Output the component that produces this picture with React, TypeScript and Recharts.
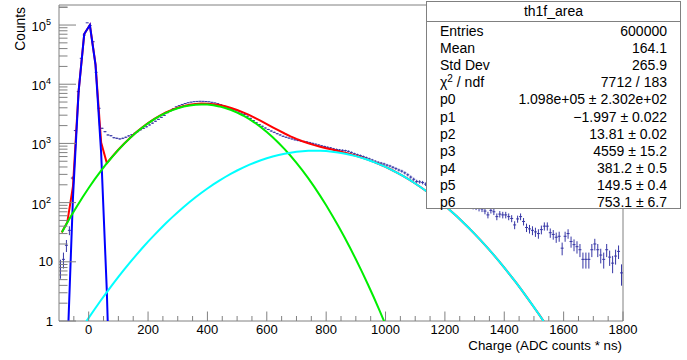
import React from 'react';
import { ComposedChart, Line, Scatter, ErrorBar, XAxis, YAxis, ReferenceArea } from 'recharts';

const FONT = '"Liberation Sans", Arial, Helvetica, sans-serif';
const AXIS_GREY = '#808080';
const DATA_BLUE = '#3636a6';

// histogram th1f_area: 190 bins of width 10 from -100 to 1800
const histLow = -100;
const binWidth = 10;
const binCounts = [
  8, 11, 19, 34, 260, 1650, 7500, 27400, 67800, 109000, // -100..0
  98000, 52200, 15900, 3920, 1800, 1580, 1390, 1350, 1250, 1220, // 0..100
  1190, 1220, 1270, 1340, 1400, 1480, 1580, 1700, 1800, 1910, // 100..200
  2050, 2200, 2370, 2550, 2760, 2980, 3300, 3550, 3850, 4150, // 200..300
  4350, 4550, 4720, 4860, 4980, 5070, 5120, 5150, 5140, 5100, // 300..400
  5050, 4950, 4830, 4700, 4520, 4330, 4120, 3920, 3720, 3530, // 400..500
  3380, 3250, 3100, 2880, 2650, 2430, 2230, 2080, 1950, 1820, // 500..600
  1720, 1620, 1540, 1460, 1390, 1320, 1270, 1230, 1190, 1150, // 600..700
  1120, 1100, 1080, 1060, 1030, 1000, 970, 940, 910, 885, // 700..800
  860, 840, 810, 790, 775, 765, 755, 735, 705, 670, // 800..900
  645, 625, 600, 575, 550, 525, 500, 480, 465, 450, // 900..1000
  430, 415, 395, 375, 355, 340, 318, 295, 270, 248, // 1000..1100
  228, 224, 218, 205, 195, 185, 172, 165, 155, 146, // 1100..1200
  140, 132, 124, 118, 112, 106, 100, 95, 90, 86, // 1200..1300
  84, 80, 78, 72, 62, 74, 70, 58, 64, 62, // 1300..1400
  62, 58, 54, 42, 53, 58, 48, 38, 36, 34, // 1400..1500
  32, 30, 35, 40, 40, 31, 29, 26, 27, 17, // 1500..1600
  27, 30, 22, 19.5, 18, 16, 11, 11, 11, 16, // 1600..1700
  20, 16, 13, 11, 16, 12, 9.5, 12.5, 15, 6.5, // 1700..1800
];

// fitted functions, sampled as drawn: [x, value]
const totalFit: [number, number][] = [
  [-91, 31.3], [-72, 46.6], [-53, 187.6], [-34, 7586], [-15, 70627], [4, 100100], [23, 21580],
  [42, 1035], [61, 466.4], [80, 603], [99, 773], [120, 998.4], [140, 1250.5],
  [160, 1538.7], [180, 1860.2], [200, 2209], [220, 2577.3], [240, 2954.2], [260, 3326.9],
  [280, 3681.4], [300, 4002.7], [320, 4277], [340, 4491.4], [360, 4636.5], [380, 4705.6],
  [400, 4696.4], [420, 4610.9], [440, 4455.2], [460, 4238.5], [480, 3973.2], [500, 3673.3],
  [520, 3353.1], [540, 3026.4], [560, 2706.1], [580, 2402.3], [600, 2123], [620, 1873.4],
  [640, 1655.9], [660, 1470.9], [680, 1316.7], [700, 1190.4], [720, 1087.7], [740, 1004.8],
  [760, 937.1], [780, 880.4], [800, 831.4], [820, 787.1], [840, 745.1], [860, 704], [880, 662.6],
  [900, 620.5], [920, 577.3], [940, 533.4], [960, 489.1], [980, 444.9], [1000, 401.4], [1020, 359],
  [1040, 318], [1060, 279.6], [1080, 243.7], [1100, 210.5], [1120, 180.2], [1140, 152.8],
  [1160, 128.5], [1180, 107.1], [1200, 88.4], [1220, 72.4], [1240, 58.7], [1260, 47.2],
  [1280, 37.6], [1300, 29.7], [1320, 23.2], [1340, 18.04], [1360, 13.87], [1380, 10.57],
  [1400, 7.98], [1420, 5.97], [1440, 4.43], [1460, 3.26], [1480, 2.37], [1500, 1.71],
  [1520, 1.23], [1540, 0.87], [1560, 0.61],
];

const pedestalFit: [number, number][] = [
  [-72, 0.289], [-53, 120], [-34, 7489], [-15, 70490], [4, 99910], [23, 21320], [42, 685],
  [61, 3.3], [80, 0.0024],
];

const onePeFit: [number, number][] = [
  [-90, 31.7], [-80, 39.1], [-60, 58.6], [-40, 86.1], [-20, 124.4], [0, 176.6], [20, 246.3],
  [40, 337.1], [60, 453.5], [80, 598.9], [100, 777.4], [120, 990.9], [140, 1240.6], [160, 1525.7],
  [180, 1843.2], [200, 2187.1], [220, 2549.3], [240, 2918.6], [260, 3282.2], [280, 3625.6],
  [300, 3933.8], [320, 4192.6], [340, 4389.1], [360, 4513.4], [380, 4558.9], [400, 4523.1],
  [420, 4408], [440, 4219.7], [460, 3967.7], [480, 3664.6], [500, 3324.7], [520, 2962.8],
  [540, 2593.3], [560, 2229.9], [580, 1883.2], [600, 1562.3], [620, 1273.1], [640, 1019],
  [660, 801.1], [680, 618.7], [700, 469.4], [720, 349.6], [740, 255.9], [760, 184], [780, 129.9],
  [800, 90.1], [820, 61.4], [840, 41.1], [860, 27], [880, 17.4], [900, 11.06], [920, 6.89],
  [940, 4.22], [960, 2.54], [980, 1.5], [1000, 0.868], [1020, 0.494],
];

const twoPeFit: [number, number][] = [
  [-20, 0.8], [0, 1.13], [20, 1.582], [40, 2.196], [60, 3.02], [80, 4.12], [100, 5.56], [120, 7.45],
  [140, 9.88], [160, 13.01], [180, 16.95], [200, 21.9], [220, 28.03], [240, 35.57], [260, 44.74],
  [280, 55.78], [300, 68.91], [320, 84.36], [340, 102.3], [360, 123.1], [380, 146.7], [400, 173.3],
  [420, 202.9], [440, 235.5], [460, 270.8], [480, 308.6], [500, 348.6], [520, 390.3], [540, 433.1],
  [560, 476.2], [580, 519.1], [600, 560.7], [620, 600.3], [640, 636.9], [660, 669.8], [680, 698],
  [700, 721], [720, 738.1], [740, 748.9], [760, 753.1], [780, 750.5], [800, 741.3], [820, 725.7],
  [840, 704], [860, 677], [880, 645.2], [900, 609.4], [920, 570.4], [940, 529.2], [960, 486.6],
  [980, 443.4], [1000, 400.5], [1020, 358.5], [1040, 318], [1060, 279.6], [1080, 243.7],
  [1100, 210.5], [1120, 180.2], [1140, 152.8], [1160, 128.5], [1180, 107.1], [1200, 88.4],
  [1220, 72.4], [1240, 58.7], [1260, 47.2], [1280, 37.6], [1300, 29.7], [1320, 23.2],
  [1340, 18.04], [1360, 13.87], [1380, 10.57], [1400, 7.98], [1420, 5.97], [1440, 4.43],
  [1460, 3.26], [1480, 2.37], [1500, 1.713], [1520, 1.226], [1540, 0.87], [1560, 0.611],
];

// stats box
const statsTitle = 'th1f_area';
const statsLabels = ['Entries', 'Mean', 'Std Dev', 'CHI', 'p0', 'p1', 'p2', 'p3', 'p4', 'p5', 'p6'];
const statsValues = [
  '600000', '164.1', '265.9', '7712 / 183', '1.098e+05 ± 2.302e+02', '\u22121.997 ± 0.022',
  '13.81 ± 0.02', '4559 ± 15.2', '381.2 ± 0.5', '149.5 ± 0.4', '753.1 ± 6.7',
];

// axes
const xRange = [-100, 1800];
const yRange = [1, 218000];
const xTicks = Array.from({ length: 38 }, (_, i) => -50 + 50 * i);
const yDecades = [1, 10, 100, 1000, 10000, 100000];
const yTicks = [...yDecades.flatMap((d) => [1, 2, 3, 4, 5, 6, 7, 8, 9].map((m) => m * d)), 200000];

const histPoints = binCounts.map((n, i) => ({
  x: histLow + binWidth * (i + 0.5),
  y: n,
  ex: binWidth / 2,
  ey: Math.sqrt(n),
}));

const toPoints = (arr: [number, number][]) => arr.map(([x, y]) => ({ x, y }));

function XTick(props: any) {
  const { x, y, payload } = props;
  const v = payload.value;
  const major = v % 200 === 0;
  return (
    <g>
      <line x1={x} x2={x} y1={y} y2={y - (major ? 9.5 : 5)} stroke={AXIS_GREY} />
      {major && (
        <text x={x} y={y + 13} textAnchor="middle" fontSize={13} fontFamily={FONT} fill="#000">
          {v}
        </text>
      )}
    </g>
  );
}

function YTick(props: any) {
  const { x, y, payload } = props;
  const v = payload.value;
  const major = yDecades.includes(v);
  const exp = Math.round(Math.log10(v));
  return (
    <g>
      <line x1={x} x2={x + (major ? 17 : 8.5)} y1={y} y2={y} stroke={AXIS_GREY} />
      {major && exp < 2 && (
        <text x={x - 6} y={y + 4.5} textAnchor="end" fontSize={13} fontFamily={FONT} fill="#000">
          {v}
        </text>
      )}
      {major && exp >= 2 && (
        <text x={x - 8} y={y + 6} textAnchor="end" fontSize={13} fontFamily={FONT} fill="#000">
          <tspan>10</tspan>
          <tspan dy={-6} fontSize={9}>{exp}</tspan>
        </text>
      )}
    </g>
  );
}

const lineProps = { type: 'linear' as const, dataKey: 'y', dot: false, strokeWidth: 2, isAnimationActive: false };

export default function App() {
  return (
    <div style={{ position: 'absolute', left: 0, top: 0, width: 687, height: 360, background: '#fff', fontFamily: FONT }}>
      <ComposedChart width={687} height={360} margin={{ top: 5, right: 64, bottom: 38, left: 58 }}>
        <XAxis
          dataKey="x"
          type="number"
          domain={xRange}
          allowDataOverflow
          ticks={xTicks}
          interval={0}
          tick={(p: any) => <XTick {...p} />}
          tickLine={false}
          axisLine={false}
          tickSize={0}
          tickMargin={0}
          height={1}
        />
        <YAxis
          dataKey="y"
          type="number"
          scale="log"
          domain={yRange}
          allowDataOverflow
          ticks={yTicks}
          interval={0}
          tick={(p: any) => <YTick {...p} />}
          tickLine={false}
          axisLine={false}
          tickSize={0}
          tickMargin={0}
          width={1}
        />
        <ReferenceArea x1={xRange[0]} x2={xRange[1]} y1={yRange[0]} y2={yRange[1]} fill="none" stroke={AXIS_GREY} ifOverflow="visible" />
        <Scatter data={histPoints} dataKey="y" shape={() => <g />} isAnimationActive={false}>
          <ErrorBar dataKey="ey" direction="y" width={0} stroke={DATA_BLUE} strokeWidth={1} />
          <ErrorBar dataKey="ex" direction="x" width={0} stroke={DATA_BLUE} strokeWidth={1} />
        </Scatter>
        <Line {...lineProps} data={toPoints(totalFit)} stroke="#ff0000" />
        <Line {...lineProps} data={toPoints(pedestalFit)} stroke="#0000ff" />
        <Line {...lineProps} data={toPoints(onePeFit)} stroke="#00ee00" />
        <Line {...lineProps} data={toPoints(twoPeFit)} stroke="#00ffff" />
      </ComposedChart>

      <svg width={687} height={360} style={{ position: 'absolute', left: 0, top: 0, pointerEvents: 'none' }}>
        <text x={622} y={350} textAnchor="end" fontSize={13.3} fontFamily={FONT} fill="#000">
          Charge (ADC counts * ns)
        </text>
        <text transform="translate(25,7) rotate(-90)" textAnchor="end" fontSize={13.8} fontFamily={FONT} fill="#000">
          Counts
        </text>
      </svg>

      <div
        style={{
          position: 'absolute',
          left: 426,
          top: 1,
          width: 255,
          height: 208,
          boxSizing: 'border-box',
          border: `1px solid ${AXIS_GREY}`,
          background: '#fff',
          fontSize: 14,
          color: '#000',
        }}
      >
        <div style={{ position: 'absolute', left: 0, right: 0, top: 0, height: 19, borderBottom: `1px solid ${AXIS_GREY}`, textAlign: 'center', lineHeight: '19px' }}>
          {statsTitle}
        </div>
        {statsLabels.map((label, i) => (
          <div
            key={label}
            style={{
              position: 'absolute',
              left: 13,
              right: 13,
              top: 20 + 17.1 * i,
              height: 18,
              lineHeight: '18px',
              display: 'flex',
              justifyContent: 'space-between',
              whiteSpace: 'nowrap',
            }}
          >
            <span>
              {label === 'CHI' ? (
                <>
                  {'\u03c7'}
                  <span style={{ fontSize: 10, position: 'relative', top: -5 }}>2</span>
                  {' / ndf'}
                </>
              ) : (
                label
              )}
            </span>
            <span>{statsValues[i]}</span>
          </div>
        ))}
      </div>
    </div>
  );
}
